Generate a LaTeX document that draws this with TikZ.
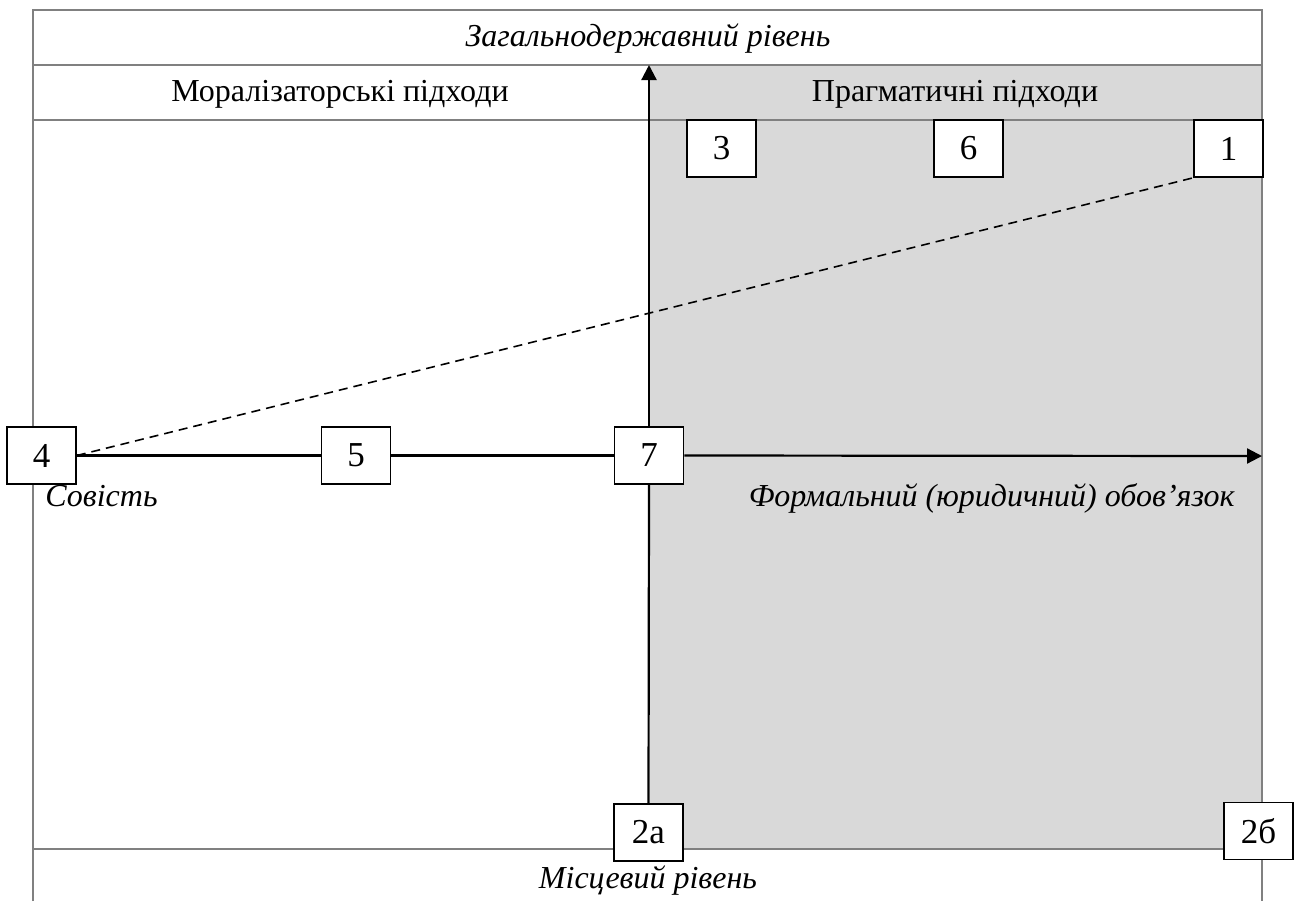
\documentclass[tikz,border=0pt]{standalone}
\usepackage{fontspec}
\setmainfont{Liberation Serif}
\usetikzlibrary{arrows.meta}
\definecolor{bggray}{HTML}{D9D9D9}
\definecolor{framegray}{HTML}{808080}
\begin{document}
\begin{tikzpicture}[x=0.5pt,y=-0.5pt,
  numbox/.style={draw=black,line width=0.8pt,fill=white,minimum width=34.5pt,minimum height=28.5pt,inner sep=0pt,font=\fontsize{17.5}{20}\selectfont},
  frameline/.style={draw=framegray,line width=0.7pt},
  axisline/.style={draw=black,line width=1.1pt},
  lab/.style={font=\fontsize{16}{19}\selectfont,inner sep=0pt},
  ilab/.style={lab,font=\fontsize{16}{19}\selectfont\itshape},
  tip/.style={-{Triangle[length=7.5pt,width=7.5pt]}}]
\useasboundingbox (0,0) rectangle (1294,901);
% gray region
\fill[bggray] (650,65) rectangle (1262,849);
% frame
\draw[frameline] (33,901) -- (33,10) -- (1262,10) -- (1262,901);
\draw[frameline] (33,65) -- (1262,65);
\draw[frameline] (33,120) -- (1262,120);
\draw[frameline] (33,849) -- (1262,849);
% texts
\node[ilab,anchor=base] (tgen) at (648,46) {Загальнодержавний рівень};
\node[lab,anchor=base] (tmor) at (340,101) {Моралізаторські підходи};
\node[lab,anchor=base] (tprag) at (955,101) {Прагматичні підходи};
\node[ilab,anchor=base west] (tsov) at (45,506) {Совість};
\node[ilab,anchor=base east] (tform) at (1235,506) {Формальний (юридичний) обов’язок};
\node[ilab,anchor=base] (tmis) at (648,888) {Місцевий рівень};
% coordinates
\coordinate (ytop) at (649,65);
\coordinate (xright) at (1262,456);
% boxes
\node[numbox] (b4) at (41.5,455.5) {4};
\node[numbox] (b5) at (356,455.5) {5};
\node[numbox] (b7) at (649,455.5) {7};
\node[numbox] (b3) at (721.5,148.5) {3};
\node[numbox] (b6) at (968.5,148.5) {6};
\node[numbox] (b1) at (1228.5,148.5) {1};
\node[numbox] (b2a) at (648.5,832.5) {2а};
\node[numbox] (b2b) at (1258.5,831) {2б};
% axes
\draw[axisline] (b2a.north) -- (b7.south);
\draw[axisline,tip] (b7.north) -- (ytop);
\draw[axisline,tip] (b7.east) -- (xright);
\draw[axisline,line width=1.3pt] (b4.east) -- (b5.west);
\draw[axisline,line width=1.3pt] (b5.east) -- (b7.west);
\draw[line width=0.8pt,dash pattern=on 4.5pt off 3pt] (b4.east) -- (b1.south west);
\end{tikzpicture}
\end{document}
